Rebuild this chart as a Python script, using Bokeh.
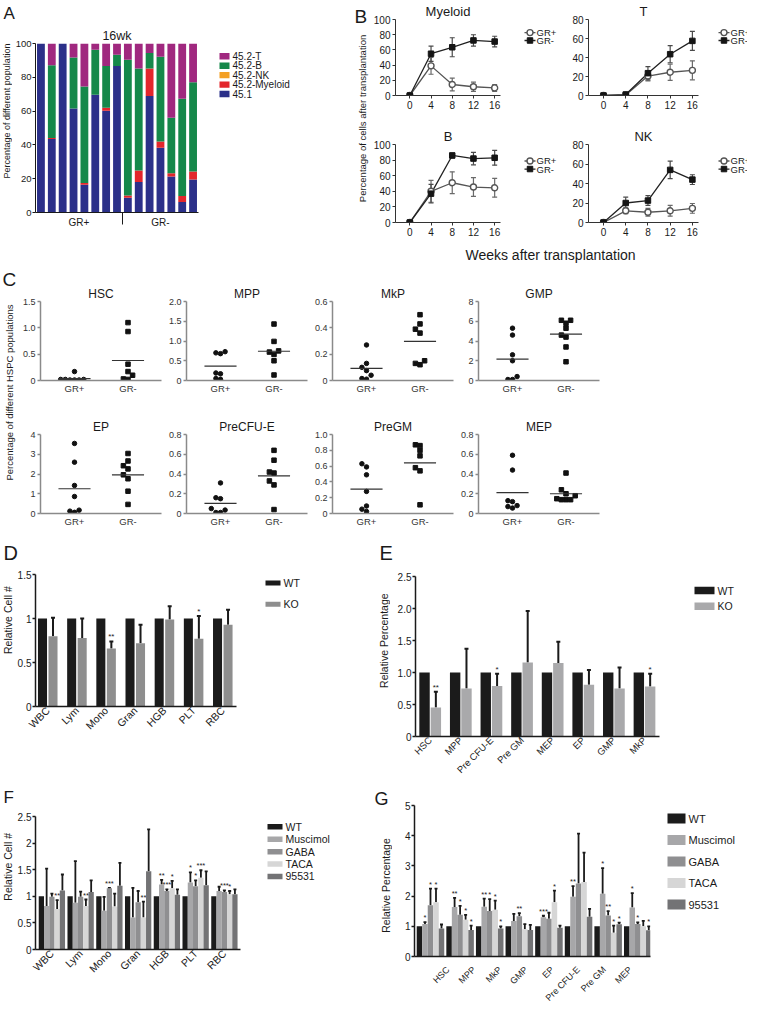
import math
from bokeh.plotting import figure
from bokeh.models import (Range1d, FixedTicker, Whisker, TeeHead, ColumnDataSource, Spacer)
from bokeh.layouts import row, column
from bokeh.embed import file_html
from bokeh.resources import INLINE
from bokeh.core.properties import value

FONT = "Liberation Sans"
INK = "#1a1a1a"

# ---------------- Panel A : 16wk composition per mouse ----------------
a_mice = list(range(1, 16))
a_cd451 = [100, 43.5, 100, 61.5, 16.4, 69.7, 60.2, 86.8, 8.7, 18.0, 68.9, 38.3, 21.3, 6.2, 19.5]
a_myeloid = [0, 0.6, 0, 0, 1.0, 0, 1.8, 0, 1.3, 6.8, 16.3, 3.7, 1.9, 3.5, 4.7]
a_nk = [0, 0, 0, 0, 0, 0, 0, 0, 0, 0, 0, 0, 0, 0, 0]
a_b = [0, 43.0, 0, 30.3, 57.2, 26.6, 24.8, 6.6, 80.5, 60.4, 9.2, 50.2, 32.9, 57.7, 52.9]
a_t = [0, 12.9, 0, 8.2, 25.4, 3.7, 13.2, 6.6, 9.5, 14.8, 5.6, 7.8, 43.9, 32.6, 22.9]
a_groups = ["GR+", "GR-"]
a_pops = ["45.2-T", "45.2-B", "45.2-NK", "45.2-Myeloid", "45.1"]
a_colors = ["#a0287f", "#15884a", "#f4a024", "#e3262b", "#2b3089"]

# ---------------- Panel B : time courses ----------------
weeks = [0, 4, 8, 12, 16]
myeloid_gr_pos = [0, 39, 14.5, 11.5, 10]
myeloid_gr_pos_sem = [0, 11, 8.5, 6, 4.5]
myeloid_gr_neg = [0, 55, 63.5, 72.5, 71]
myeloid_gr_neg_sem = [0, 10, 12.5, 7.5, 7]
t_gr_pos = [0, 0.5, 20.5, 24.5, 26.5]
t_gr_pos_sem = [0, 0.5, 5, 8.5, 10]
t_gr_neg = [0, 1.0, 23.5, 43.5, 57.5]
t_gr_neg_sem = [0, 0.5, 7, 9, 10]
b_gr_pos = [0, 40, 51, 45.5, 44.5]
b_gr_pos_sem = [0, 14, 14, 12, 12]
b_gr_neg = [0, 37, 86, 82, 83]
b_gr_neg_sem = [0, 12, 3, 8, 9.5]
nk_gr_pos = [0, 12, 10.5, 12, 14.5]
nk_gr_pos_sem = [0, 3, 4, 5.5, 5]
nk_gr_neg = [0, 20, 22.5, 54, 44]
nk_gr_neg_sem = [0, 6, 5, 9, 5]
b_groups = ["GR+", "GR-"]

# ---------------- Panel C : HSPC populations ----------------
hsc_gr_pos = [0.17, 0.02, 0.01, 0.02, 0.01, 0.02, 0.01]
hsc_gr_neg = [1.10, 0.93, 0.31, 0.17, 0.10, 0.03, 0.02]
mpp_gr_pos = [0.73, 0.70, 0.68, 0.19, 0.17, 0.05, 0.03]
mpp_gr_neg = [1.43, 0.99, 0.75, 0.72, 0.66, 0.50, 0.14]
mkp_gr_pos = [0.27, 0.13, 0.10, 0.075, 0.04, 0.015, 0.01]
mkp_gr_neg = [0.50, 0.43, 0.39, 0.36, 0.15, 0.13, 0.12]
gmp_gr_pos = [5.3, 4.6, 2.6, 2.0, 0.4, 0.1, 0.1]
gmp_gr_neg = [6.1, 6.1, 5.8, 5.3, 4.6, 4.4, 3.4, 1.9]
ep_gr_pos = [3.55, 2.6, 1.42, 0.86, 0.17, 0.12, 0.06]
ep_gr_neg = [3.04, 2.66, 2.42, 2.26, 1.96, 1.76, 1.13, 0.46]
precfue_gr_pos = [0.31, 0.16, 0.15, 0.05, 0.035, 0.01, 0.01]
precfue_gr_neg = [0.64, 0.54, 0.42, 0.41, 0.33, 0.29, 0.04]
pregm_gr_pos = [0.63, 0.59, 0.49, 0.28, 0.095, 0.055, 0.025]
pregm_gr_neg = [0.87, 0.86, 0.80, 0.73, 0.58, 0.54, 0.11]
mep_gr_pos = [0.59, 0.44, 0.13, 0.12, 0.08, 0.07, 0.055]
mep_gr_neg = [0.41, 0.24, 0.20, 0.18, 0.15, 0.14, 0.14, 0.14]

# ---------------- Panel D ----------------
d_params = ["WBC", "Lym", "Mono", "Gran", "HGB", "PLT", "RBC"]
d_wt = [1, 1, 1, 1, 1, 1, 1]
d_ko = [0.80, 0.78, 0.66, 0.72, 0.99, 0.77, 0.93]
d_ko_sem = [0.21, 0.22, 0.08, 0.21, 0.15, 0.26, 0.17]
d_sig = ["", "", "**", "", "", "*", ""]
d_groups = ["WT", "KO"]

# ---------------- Panel E ----------------
e_pops = ["HSC", "MPP", "Pre CFU-E", "Pre GM", "MEP", "EP", "GMP", "MkP"]
e_wt = [1, 1, 1, 1, 1, 1, 1, 1]
e_ko = [0.455, 0.75, 0.79, 1.155, 1.15, 0.81, 0.75, 0.78]
e_ko_sem = [0.245, 0.62, 0.19, 0.805, 0.33, 0.23, 0.33, 0.20]
e_sig = ["**", "", "*", "", "", "", "", "*"]

# ---------------- Panel F ----------------
f_params = ["WBC", "Lym", "Mono", "Gran", "HGB", "PLT", "RBC"]
f_wt = [1, 1, 1, 1, 1, 1, 1]
f_muscimol = [0.82, 0.88, 0.73, 0.60, 1.22, 1.26, 1.10]
f_muscimol_sem = [0.70, 0.78, 0.26, 0.56, 0.09, 0.19, 0.08]
f_gaba = [0.99, 0.99, 1.15, 0.89, 1.10, 1.19, 1.08]
f_gaba_sem = [0.06, 0.10, 0.01, 0.21, 0.03, 0.11, 0.03]
f_taca = [0.76, 0.82, 0.81, 0.60, 1.15, 1.35, 1.04]
f_taca_sem = [0.17, 0.12, 0.24, 0.30, 0.14, 0.14, 0.06]
f_95531 = [1.11, 1.08, 1.20, 1.47, 1.03, 1.21, 1.04]
f_95531_sem = [0.30, 0.22, 0.43, 0.79, 0.10, 0.26, 0.09]
f_sig_muscimol = ["", "", "", "", "**", "*", ""]
f_sig_gaba = ["", "", "***", "", "***", "*", "***"]
f_sig_taca = ["**", "**", "", "**", "*", "***", "*"]

# ---------------- Panel G ----------------
g_pops = ["HSC", "MPP", "MkP", "GMP", "EP", "Pre CFU-E", "Pre GM", "MEP"]
g_wt = [1, 1, 1, 1, 1, 1, 1, 1]
g_muscimol = [1.08, 1.64, 1.65, 1.18, 1.30, 1.98, 2.08, 1.62]
g_muscimol_sem = [0.06, 0.30, 0.27, 0.23, 0.05, 0.35, 0.85, 0.48]
g_gaba = [1.70, 1.38, 1.51, 1.33, 1.25, 2.42, 1.36, 1.08]
g_gaba_sem = [0.55, 0.30, 0.39, 0.11, 0.20, 1.65, 0.14, 0.05]
g_taca = [1.80, 1.22, 1.55, 0.90, 1.80, 2.47, 0.79, 1.00]
g_taca_sem = [0.45, 0.16, 0.30, 0.17, 0.38, 0.97, 0.23, 0.18]
g_95531 = [0.93, 0.88, 0.93, 0.88, 0.95, 1.32, 1.07, 0.87]
g_95531_sem = [0.13, 0.14, 0.07, 0.17, 0.07, 0.26, 0.05, 0.13]
g_sig_muscimol = ["*", "**", "**", "", "***", "**", "*", "*"]
g_sig_gaba = ["*", "*", "*", "**", "", "", "**", "*"]
g_sig_taca = ["*", "*", "*", "", "*", "", "*", ""]
g_sig_95531 = ["", "*", "*", "", "", "", "*", "*"]

treat_names = ["WT", "Muscimol", "GABA", "TACA", "95531"]
treat_colors = ["#1b1b1b", "#a7a7a9", "#8f8f91", "#d6d6d6", "#737375"]


# ====================== helpers ======================
def make_fig(w, h, fl, ft, fw, fh, xr, yr, title=None, title_size="13px"):
    p = figure(width=w, height=h, x_range=Range1d(*xr), y_range=Range1d(*yr),
               output_backend="svg", toolbar_location=None,
               min_border_left=fl, min_border_top=ft,
               min_border_right=w - fl - fw, min_border_bottom=h - ft - fh,
               title=title)
    if title is not None:
        p.title.align = "center"
        p.title.text_font = FONT
        p.title.text_font_size = title_size
        p.title.text_font_style = "normal"
        p.title.text_color = INK
        p.title.standoff = 2
    p.outline_line_color = None
    p.xgrid.visible = False
    p.ygrid.visible = False
    p.background_fill_color = "white"
    p.border_fill_color = "white"
    return p


def text_fig(w, h, xr=None):
    p = figure(width=w, height=h, x_range=Range1d(*(xr if xr else (0, w))), y_range=Range1d(0, h),
               output_backend="svg", toolbar_location=None,
               x_axis_type=None, y_axis_type=None, min_border=0)
    p.outline_line_color = None
    p.xgrid.visible = False
    p.ygrid.visible = False
    p.background_fill_color = "white"
    p.border_fill_color = "white"
    return p


def style_axis(ax, color=INK, lw=1.0, size="10px", tick_out=3, label_color=INK, standoff=2):
    ax.axis_line_color = color
    ax.axis_line_width = lw
    ax.major_tick_line_color = color
    ax.major_tick_line_width = lw
    ax.major_tick_out = tick_out
    ax.major_tick_in = 0
    ax.minor_tick_out = 0
    ax.minor_tick_in = 0
    ax.minor_tick_line_color = None
    ax.major_label_text_font = FONT
    ax.major_label_text_font_size = size
    ax.major_label_text_color = label_color
    ax.major_label_standoff = standoff


def set_ticks(ax, ticks, labels):
    ax.ticker = FixedTicker(ticks=ticks)
    ax.major_label_overrides = dict(zip(ticks, labels))


def add_text(p, x, y, text, size, angle=0.0, align="left", baseline="alphabetic"):
    p.text(x=[x], y=[y], text=[text], angle=angle, text_align=align, text_baseline=baseline,
           text_font=value(FONT), text_font_size=size, text_color=INK)


def add_letter(p, x, letter, size_px, cy=None):
    # panel letter, vertically centred with a comfortable margin inside its strip
    h = p.height
    if cy is None:
        cy = h - size_px * 0.62 - 2
    add_text(p, x, cy, letter, "%dpx" % size_px, baseline="middle")


def bar_legend_fig(w, h, names, colors, x0, first_c, pitch, gw, gh, size):
    # key boxes + labels, laid out in pixel units of this small strip
    p = text_fig(w, h)
    n = len(names)
    cys = [h - (first_c + i * pitch) for i in range(n)]
    p.rect(x=[x0 + gw / 2.0] * n, y=cys, width=gw, height=gh, fill_color=colors, line_color=None)
    p.text(x=[x0 + gw + 3] * n, y=cys, text=names, text_align="left", text_baseline="middle",
           text_font=value(FONT), text_font_size=size, text_color=INK)
    return p


def line_legend_fig(w, h, x0, first_c, pitch=12.7):
    p = text_fig(w, h)
    cy = [h - first_c, h - first_c - pitch]
    p.segment(x0=[x0, x0], y0=cy, x1=[x0 + 11, x0 + 11], y1=cy,
              line_color=["#555555", "#222222"], line_width=1.3)
    p.scatter(x=[x0 + 5.5], y=[cy[0]], marker="circle", size=6, fill_color="white",
              line_color="#555555", line_width=1.4)
    p.scatter(x=[x0 + 5.5], y=[cy[1]], marker="square", size=5.5, fill_color="#151515",
              line_color="#151515")
    p.text(x=[x0 + 12, x0 + 12], y=cy, text=b_groups, text_align="left", text_baseline="middle",
           text_font=value(FONT), text_font_size="9.5px", text_color=INK)
    return p


def bar_series(p, xs, vals, sems, width, color, eb_lw=2.0, cap=4, sig=None, sig_size="8px"):
    hi = [v + s for v, s in zip(vals, sems)]
    src = ColumnDataSource(dict(x=xs, top=vals, hi=hi))
    r = p.vbar(x="x", top="top", bottom=0, width=width, source=src,
               fill_color=color, line_color=None)
    if any(s > 0 for s in sems):
        p.add_layout(Whisker(source=src, base="x", upper="hi", lower="top", dimension="height",
                             line_color=INK, line_width=eb_lw,
                             upper_head=TeeHead(size=cap, line_color=INK, line_width=eb_lw),
                             lower_head=TeeHead(size=0.1, line_alpha=0)))
    if sig is not None:
        ts = ColumnDataSource(dict(x=xs, y=hi, t=sig))
        p.text(x="x", y="y", text="t", source=ts, text_font=value(FONT),
               text_font_size=sig_size, text_align="center", text_baseline="bottom",
               text_color=INK)
    return r


# ====================== Panel A ======================
a_head = text_fig(352, 25)
add_letter(a_head, 3, "A", 17, cy=12.5)
a_ylab = text_fig(12, 238)
add_text(a_ylab, 6, 146, "Percentage of different populations", "9px",
         angle=math.pi / 2, align="center", baseline="middle")
pA = make_fig(195, 238, 20, 15, 166, 172, (0.5, 15.5), (0, 100.05), title="16wk", title_size="12.5px")
srcA = ColumnDataSource(dict(x=a_mice, cd451=a_cd451, my=a_myeloid, nk=a_nk, b=a_b, t=a_t))
pA.vbar_stack(["cd451", "my", "nk", "b", "t"], x="x", width=0.72, source=srcA,
              fill_color=a_colors[::-1], line_color=None)
style_axis(pA.yaxis[0], size="9.5px", tick_out=3, standoff=1)
set_ticks(pA.yaxis[0], [0, 20, 40, 60, 80, 100], ["0", "20", "40", "60", "80", "100"])
style_axis(pA.xaxis[0], size="10px", tick_out=0, lw=1.2)
pA.xaxis[0].ticker = FixedTicker(ticks=[4.5, 12], minor_ticks=[8.5])
pA.xaxis[0].major_label_overrides = {4.5: a_groups[0], 12: a_groups[1]}
pA.xaxis[0].minor_tick_out = 12
pA.xaxis[0].minor_tick_line_color = INK
pA.xaxis[0].minor_tick_line_width = 1
pA.xaxis[0].major_label_standoff = -8
a_leg = bar_legend_fig(145, 238, a_pops, a_colors, 12, 18, 13.3, 10, 9, "10px")
panelA = column(a_head, row(a_ylab, pA, a_leg, spacing=0), spacing=0)


# ====================== Panel B ======================
def line_panel(p, pos, pos_sem, neg, neg_sem):
    sp = ColumnDataSource(dict(x=weeks, y=pos, lo=[v - s for v, s in zip(pos, pos_sem)],
                               hi=[v + s for v, s in zip(pos, pos_sem)]))
    sn = ColumnDataSource(dict(x=weeks, y=neg, lo=[v - s for v, s in zip(neg, neg_sem)],
                               hi=[v + s for v, s in zip(neg, neg_sem)]))
    for s, c in ((sp, "#6a6a6a"), (sn, "#4a4a4a")):
        p.add_layout(Whisker(source=s, base="x", upper="hi", lower="lo", dimension="height",
                             line_color=c, line_width=1.2,
                             upper_head=TeeHead(size=5, line_color=c, line_width=1.2),
                             lower_head=TeeHead(size=5, line_color=c, line_width=1.2)))
    p.line("x", "y", source=sp, line_color="#555555", line_width=1.3)
    p.line("x", "y", source=sn, line_color="#222222", line_width=1.3)
    p.scatter("x", "y", source=sp, marker="circle", size=6, fill_color="white",
              line_color="#555555", line_width=1.4)
    p.scatter("x", "y", source=sn, marker="square", size=5.5, fill_color="#151515",
              line_color="#151515")


b_xr = (-2.7, 17.1)
b_specs = [
    ("Myeloid", 147, 122, 22, 18, 108, 77, 100, [0, 20, 40, 60, 80, 100],
     myeloid_gr_pos, myeloid_gr_pos_sem, myeloid_gr_neg, myeloid_gr_neg_sem),
    ("T", 150, 122, 24, 18, 110, 77, 80, [0, 20, 40, 60, 80],
     t_gr_pos, t_gr_pos_sem, t_gr_neg, t_gr_neg_sem),
    ("B", 147, 123, 22, 22, 108, 78, 100, [0, 20, 40, 60, 80, 100],
     b_gr_pos, b_gr_pos_sem, b_gr_neg, b_gr_neg_sem),
    ("NK", 150, 123, 24, 22, 110, 78, 80, [0, 20, 40, 60, 80],
     nk_gr_pos, nk_gr_pos_sem, nk_gr_neg, nk_gr_neg_sem),
]
b_figs = []
for (name, w, h, fl, ft, fw, fh, ymax, yt, pos, pos_sem, neg, neg_sem) in b_specs:
    p = make_fig(w, h, fl, ft, fw, fh, b_xr, (0, ymax * 1.0005), title=name, title_size="13px")
    style_axis(p.xaxis[0], color="#333333", size="10px", tick_out=3)
    set_ticks(p.xaxis[0], weeks, [str(v) for v in weeks])
    style_axis(p.yaxis[0], color="#333333", size="10px", tick_out=3)
    set_ticks(p.yaxis[0], yt, [str(v) for v in yt])
    line_panel(p, pos, pos_sem, neg, neg_sem)
    b_figs.append(p)

b_lab = text_fig(18, 263)
add_letter(b_lab, 2, "B", 19, cy=263 - 16)
add_text(b_lab, 10, 145, "Percentage of cells after transplantation", "9.5px",
         angle=math.pi / 2, align="center", baseline="middle")
b_xlab = text_fig(377, 18)
add_text(b_xlab, 180, 9, "Weeks after transplantation", "14px", align="center", baseline="middle")
b_rows = column(
    row(b_figs[0], line_legend_fig(47, 122, 7, 21), b_figs[1], line_legend_fig(33, 122, 4, 21), spacing=0),
    row(b_figs[2], line_legend_fig(47, 123, 7, 26), b_figs[3], line_legend_fig(33, 123, 4, 26), spacing=0),
    b_xlab, spacing=0)
panelB = row(b_lab, b_rows, spacing=0)


# ====================== Panel C ======================
def swarm_offsets(vals, ymax, fh, step=4.6, pitch=53.5):
    order = sorted(range(len(vals)), key=lambda i: vals[i])
    placed = []
    res = [0.0] * len(vals)
    for i in order:
        yp = vals[i] / ymax * fh
        near = [xo for (pp, xo) in placed if abs(pp - yp) < step]
        chosen = 0.0
        for k in (0, -1, 1, -2, 2, -3, 3, -4, 4, -5, 5):
            xo = k * step
            if all(abs(xo - n) >= step - 0.01 for n in near):
                chosen = xo
                break
        placed.append((yp, chosen))
        res[i] = chosen / pitch
    return res


c_specs = [
    ("HSC", hsc_gr_pos, hsc_gr_neg, 1.5, [0, 0.5, 1.0, 1.5], ["0", "0.5", "1.0", "1.5"]),
    ("MPP", mpp_gr_pos, mpp_gr_neg, 2.0, [0, 0.5, 1.0, 1.5, 2.0], ["0", "0.5", "1.0", "1.5", "2.0"]),
    ("MkP", mkp_gr_pos, mkp_gr_neg, 0.6, [0, 0.2, 0.4, 0.6], ["0", "0.2", "0.4", "0.6"]),
    ("GMP", gmp_gr_pos, gmp_gr_neg, 8, [0, 2, 4, 6, 8], ["0", "2", "4", "6", "8"]),
    ("EP", ep_gr_pos, ep_gr_neg, 4, [0, 1, 2, 3, 4], ["0", "1", "2", "3", "4"]),
    ("PreCFU-E", precfue_gr_pos, precfue_gr_neg, 0.8, [0, 0.2, 0.4, 0.6, 0.8],
     ["0", "0.2", "0.4", "0.6", "0.8"]),
    ("PreGM", pregm_gr_pos, pregm_gr_neg, 1.0, [0, 0.2, 0.4, 0.6, 0.8, 1.0],
     ["0", "0.2", "0.4", "0.6", "0.8", "1.0"]),
    ("MEP", mep_gr_pos, mep_gr_neg, 0.8, [0, 0.2, 0.4, 0.6, 0.8], ["0", "0.2", "0.4", "0.6", "0.8"]),
]
c_groups = ["GR+", "GR-"]
c_figs = []
C_GRAY = "#8a8a8a"
for idx, (name, pos, neg, ymax, yt, ylab) in enumerate(c_specs):
    r_i, c_i = divmod(idx, 4)
    w = 144 if c_i == 0 else 146
    fl = 22 if c_i == 0 else 24
    h, ft = (144, 38) if r_i == 0 else (130, 27)
    fh = 79
    p = make_fig(w, h, fl, ft, 121, fh, (0.3645, 2.626), (0, ymax * 1.0005),
                 title=name, title_size="12px")
    style_axis(p.xaxis[0], color=C_GRAY, lw=1.5, size="9.5px", tick_out=0, label_color="#333333")
    set_ticks(p.xaxis[0], [1, 2], c_groups)
    style_axis(p.yaxis[0], color=C_GRAY, lw=1.5, size="9px", tick_out=3, label_color="#333333")
    set_ticks(p.yaxis[0], yt, ylab)
    op = swarm_offsets(pos, ymax, fh)
    on = swarm_offsets(neg, ymax, fh)
    p.scatter([1 + o for o in op], pos, marker="circle", size=4.5, color="#111111")
    p.scatter([2 + o for o in on], neg, marker="square", size=4.5, color="#111111")
    mp = sum(pos) / len(pos)
    mn = sum(neg) / len(neg)
    p.segment(x0=[0.7, 1.7], y0=[mp, mn], x1=[1.3, 2.3], y1=[mp, mn],
              line_color="#333333", line_width=1.2)
    c_figs.append(p)

c_lab = text_fig(18, 274)
add_letter(c_lab, 2, "C", 19, cy=274 - 16)
add_text(c_lab, 9, 145, "Percentage of different HSPC populations", "9.5px",
         angle=math.pi / 2, align="center", baseline="middle")
panelC = row(c_lab, column(row(*c_figs[:4], Spacer(width=147, height=144), spacing=0),
                           row(*c_figs[4:], Spacer(width=147, height=130), spacing=0),
                           spacing=0), spacing=0)


# ====================== Panel D ======================
d_head = text_fig(372, 30)
add_letter(d_head, 3, "D", 20, cy=15)
d_ylab = text_fig(14, 217)
add_text(d_ylab, 7, 142, "Relative Cell #", "10.5px", angle=math.pi / 2, align="center", baseline="middle")
pD = make_fig(240, 217, 20, 7, 202, 132, (-0.42, 6.47), (0, 1.5008))
style_axis(pD.yaxis[0], lw=1.5, size="10px", tick_out=3, standoff=1)
set_ticks(pD.yaxis[0], [0, 0.5, 1.0, 1.5], ["0", "0.5", "1", "1.5"])
style_axis(pD.xaxis[0], lw=1.5, size="10.5px", tick_out=0)
set_ticks(pD.xaxis[0], list(range(len(d_params))), d_params)
pD.xaxis[0].major_label_orientation = math.pi / 4
xs = list(range(len(d_params)))
bar_series(pD, [x - 0.18 for x in xs], d_wt, [0] * 7, 0.31, "#1b1b1b")
bar_series(pD, [x + 0.18 for x in xs], d_ko, d_ko_sem, 0.31, "#8e8e8e", sig=d_sig)
d_leg = bar_legend_fig(118, 217, d_groups, ["#1b1b1b", "#8e8e8e"], 11, 14, 35, 15, 8, "10.5px")
panelD = column(d_head, row(d_ylab, pD, d_leg, spacing=0), spacing=0)

# ====================== Panel E ======================
e_head = text_fig(375, 30)
add_letter(e_head, 7, "E", 20, cy=15)
e_ylab = text_fig(18, 217)
add_text(e_ylab, 11, 130, "Relative Percentage", "10.5px", angle=math.pi / 2, align="center", baseline="middle")
pE = make_fig(292, 217, 25, 9, 244, 160, (-0.48, 7.49), (0, 2.5008))
style_axis(pE.yaxis[0], lw=1.5, size="10px", tick_out=3, standoff=1)
set_ticks(pE.yaxis[0], [0, 0.5, 1.0, 1.5, 2.0, 2.5], ["0", "0.5", "1.0", "1.5", "2.0", "2.5"])
style_axis(pE.xaxis[0], lw=1.5, size="9.5px", tick_out=0)
set_ticks(pE.xaxis[0], list(range(len(e_pops))), e_pops)
pE.xaxis[0].major_label_orientation = math.pi / 4
xs = list(range(len(e_pops)))
bar_series(pE, [x - 0.185 for x in xs], e_wt, [0] * 8, 0.34, "#1b1b1b")
bar_series(pE, [x + 0.185 for x in xs], e_ko, e_ko_sem, 0.34, "#a9a9ab", sig=e_sig)
e_leg = bar_legend_fig(65, 217, d_groups, ["#1b1b1b", "#a9a9ab"], 12, 19, 21.3, 20, 10, "10.5px")
panelE = column(e_head, row(e_ylab, pE, e_leg, spacing=0), spacing=0)

# ====================== Panel F ======================
f_head = text_fig(372, 25)
add_letter(f_head, 3, "F", 17, cy=12.5)
f_ylab = text_fig(14, 193)
add_text(f_ylab, 7, 120, "Relative Cell #", "10.5px", angle=math.pi / 2, align="center", baseline="middle")
pF = make_fig(240, 193, 18, 7, 208, 133, (-0.57, 6.56), (0, 2.5008))
style_axis(pF.yaxis[0], lw=1.5, size="10px", tick_out=3, standoff=1)
set_ticks(pF.yaxis[0], [0, 0.5, 1.0, 1.5, 2.0, 2.5], ["0", "0.5", "1", "1.5", "2", "2.5"])
style_axis(pF.xaxis[0], lw=1.5, size="10.5px", tick_out=0)
set_ticks(pF.xaxis[0], list(range(len(f_params))), f_params)
pF.xaxis[0].major_label_orientation = math.pi / 4
xs = list(range(len(f_params)))
bwF = 0.183
f_series = [(f_wt, [0] * 7, None), (f_muscimol, f_muscimol_sem, f_sig_muscimol),
            (f_gaba, f_gaba_sem, f_sig_gaba), (f_taca, f_taca_sem, f_sig_taca),
            (f_95531, f_95531_sem, None)]
for k, (vals, sems, sig) in enumerate(f_series):
    bar_series(pF, [x + (k - 2) * bwF for x in xs], vals, sems, bwF, treat_colors[k],
               eb_lw=1.8, cap=3, sig=sig, sig_size="7.5px")
f_leg = bar_legend_fig(118, 193, treat_names, treat_colors, 13, 15, 18, 15, 8, "10.5px")
panelF = column(f_head, row(f_ylab, pF, f_leg, spacing=0), spacing=0)

# ====================== Panel G ======================
g_side = text_fig(20, 218)
add_letter(g_side, 2, "G", 18, cy=218 - 14)
add_text(g_side, 13, 117, "Relative Percentage", "10.5px", angle=math.pi / 2, align="center", baseline="middle")
g_xr = (-0.54, 7.43)
pG = make_fig(268, 179, 22, 21, 236, 151, g_xr, (0, 5.002))
style_axis(pG.yaxis[0], lw=1.5, size="10px", tick_out=3, standoff=1)
set_ticks(pG.yaxis[0], [0, 1, 2, 3, 4, 5], ["0", "1", "2", "3", "4", "5"])
style_axis(pG.xaxis[0], lw=1.5, size="10px", tick_out=0, standoff=0)
pG.xaxis[0].ticker = FixedTicker(ticks=[])
xs = list(range(len(g_pops)))
bwG = 0.186
g_series = [(g_wt, [0] * 8, None), (g_muscimol, g_muscimol_sem, g_sig_muscimol),
            (g_gaba, g_gaba_sem, g_sig_gaba), (g_taca, g_taca_sem, g_sig_taca),
            (g_95531, g_95531_sem, g_sig_95531)]
for k, (vals, sems, sig) in enumerate(g_series):
    bar_series(pG, [x + (k - 2) * bwG for x in xs], vals, sems, bwG, treat_colors[k],
               eb_lw=1.8, cap=3, sig=sig, sig_size="7.5px")
# category labels strip sharing the same horizontal scale as pG's frame
g_scale = (g_xr[1] - g_xr[0]) / 236.0
g_xlab = text_fig(268, 39, xr=(g_xr[0] - 22 * g_scale, g_xr[1] + 10 * g_scale))
g_xlab.text(x=xs, y=[34.3] * len(xs), text=g_pops, angle=math.pi / 4, text_align="right",
            text_baseline="middle", text_font=value(FONT), text_font_size="9px", text_color=INK)
g_leg = bar_legend_fig(87, 218, treat_names, treat_colors, 7, 34, 21.5, 18, 10, "11px")
panelG = row(g_side, column(pG, g_xlab, spacing=0), g_leg, spacing=0)

# ====================== layout ======================
band1 = row(panelA, panelB, spacing=0)
band3 = row(panelD, panelE, spacing=0)
band4 = row(panelF, panelG, spacing=0)
root = column(band1, panelC, band3, band4, spacing=0)

open("out.html", "w").write(file_html(root, INLINE, title="GR figure"))
